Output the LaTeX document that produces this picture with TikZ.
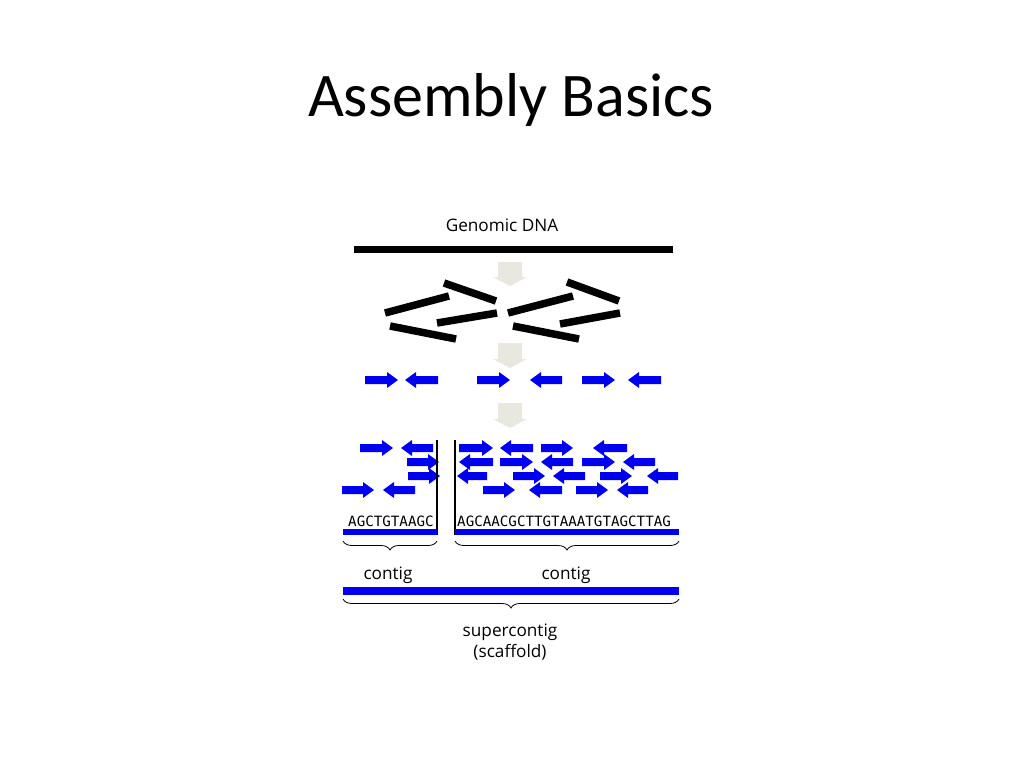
\documentclass[tikz,border=0pt]{standalone}
\usepackage{fontspec}
\setmainfont{Open Sans}
\newfontfamily\titlefont{Carlito}
\newfontfamily\seqfont{DejaVu Sans Mono}
\usetikzlibrary{decorations.pathreplacing}
\definecolor{rblue}{RGB}{0,0,240}
\definecolor{rgray}{RGB}{232,232,222}
\newcommand{\rarr}[3]{\fill[rblue] (#1,#3-4)--(#2-11,#3-4)--(#2-11,#3-8)--(#2,#3)--(#2-11,#3+8)--(#2-11,#3+4)--(#1,#3+4)--cycle;}
\newcommand{\larr}[3]{\fill[rblue] (#2,#3-4)--(#1+11,#3-4)--(#1+11,#3-8)--(#1,#3)--(#1+11,#3+8)--(#1+11,#3+4)--(#2,#3+4)--cycle;}
\newcommand{\garr}[2]{\fill[rgray] (498,#1)--(522,#1)--(522,#2-9)--(527,#2-9)--(510,#2)--(493,#2-9)--(498,#2-9)--cycle;}
\begin{document}
\begin{tikzpicture}[x=1pt,y=-1pt,
  stick/.style={line width=7.5pt,black},
  bbar/.style={rblue,line width=6pt},
  brc/.style={decorate,decoration={brace,amplitude=9pt},line width=0.8pt},
  lbl/.style={font=\fontsize{17.2}{19}\selectfont,inner sep=0pt}]
\useasboundingbox (0,0) rectangle (1024,768);
\fill[white] (0,0) rectangle (1024,768);
\node[font=\titlefont\fontsize{62}{66}\selectfont] (title) at (511,100) {Assembly Basics};
\node[lbl] (gdna) at (502,225) {Genomic DNA};
\draw[line width=7pt] (354,249) -- (673,249);
\garr{262}{286}
\garr{343}{368}
\garr{403}{428}
\draw[stick] (385,313)--(449,296);
\draw[stick] (444,283)--(496,301);
\draw[stick] (390,326)--(456,339);
\draw[stick] (437,323)--(497,313);
\draw[stick] (508,313)--(573,296);
\draw[stick] (567,282)--(619,301);
\draw[stick] (513,326)--(579,339);
\draw[stick] (560,324)--(620,313);
% reads row
\rarr{365}{398}{380}\larr{405}{438}{380}
\rarr{477}{510}{380}\larr{530}{562}{380}
\rarr{582}{615}{380}\larr{628}{661}{380}
% assembled reads
\rarr{360}{393}{448}\larr{401}{433}{448}\rarr{459}{493}{448}\larr{500}{533}{448}\rarr{541}{573}{448}\larr{593}{627}{448}
\rarr{407}{439}{462}\larr{459}{493}{462}\rarr{500}{533}{462}\larr{541}{573}{462}\rarr{582}{615}{462}\larr{623}{655}{462}
\rarr{408}{440}{476}\larr{457}{487}{476}\rarr{513}{545}{476}\larr{553}{585}{476}\rarr{600}{632}{476}\larr{647}{678}{476}
\rarr{342}{374}{490}\larr{383}{415}{490}\rarr{483}{515}{490}\larr{529}{562}{490}\rarr{576}{608}{490}\larr{617}{648}{490}
\draw[line width=2.5pt] (437,440)--(437,535);
\draw[line width=2.5pt] (455,440)--(455,535);
\node[font=\seqfont\fontsize{14.2}{16}\selectfont,inner sep=0pt,anchor=west] (s1) at (348,521) {AGCTGTAAGC};
\node[font=\seqfont\fontsize{14.2}{16}\selectfont,inner sep=0pt,anchor=west] (s2) at (457,521) {AGCAACGCTTGTAAATGTAGCTTAG};
\draw[bbar] (343,532)--(437,532);
\draw[bbar] (455,532)--(679,532);
\coordinate (b1a) at (343,541); \coordinate (b1b) at (437,541);
\coordinate (b2a) at (455,541); \coordinate (b2b) at (679,541);
\draw[brc] (b1b)--(b1a);
\draw[brc] (b2b)--(b2a);
\node[lbl] (c1) at (388,575) {contig};
\node[lbl] (c2) at (566,575) {contig};
\draw[rblue,line width=8pt] (343,591)--(679,591);
\coordinate (b3a) at (343,599); \coordinate (b3b) at (679,599);
\draw[brc] (b3b)--(b3a);
\node[lbl] (sc) at (510,632) {supercontig};
\node[lbl] (sf) at (510,652) {(scaffold)};
\end{tikzpicture}
\end{document}
